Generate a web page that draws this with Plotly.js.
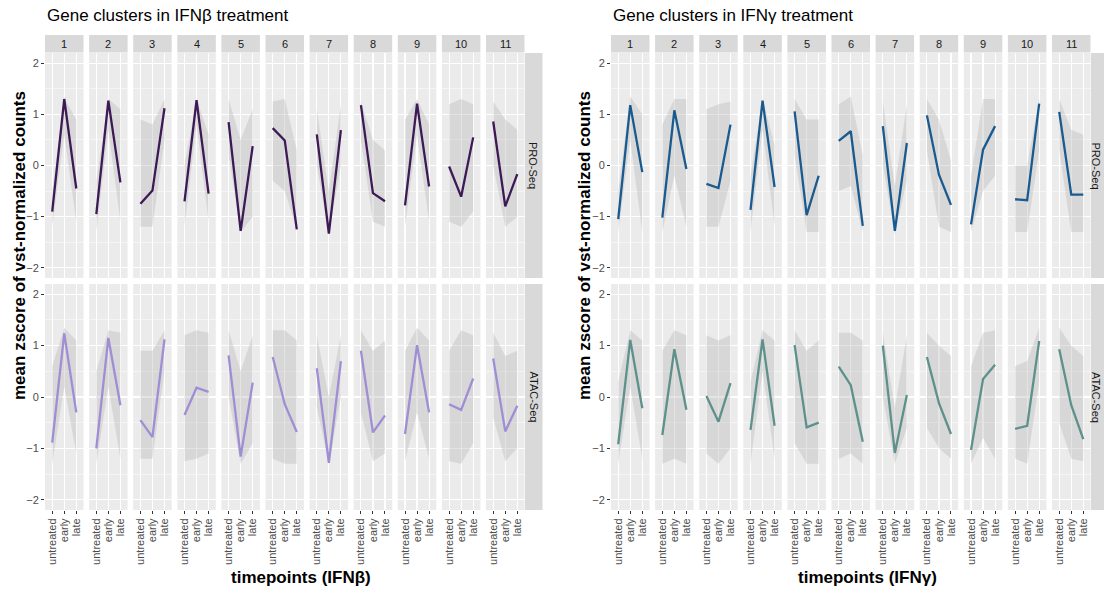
<!DOCTYPE html>
<html>
<head>
<meta charset="utf-8">
<script src="https://cdn.plot.ly/plotly-3.0.1.min.js"></script>
<style>
  html, body { margin: 0; padding: 0; background: #ffffff; }
  #chart { width: 1104px; height: 593px; }
</style>
</head>
<body>
<div id="chart"></div>
<script>
// Time points and gene clusters
const timepoints = ['untreated', 'early', 'late'];
const clusters = ['1', '2', '3', '4', '5', '6', '7', '8', '9', '10', '11'];
const assays = ['PRO-Seq', 'ATAC-Seq'];

// Cluster mean z-scores, IFNβ treatment (one row per cluster: untreated, early, late)
const betaPro = [
  [-0.90, 1.30, -0.45], [-0.95, 1.27, -0.33], [-0.75, -0.49, 1.12], [-0.70, 1.28, -0.55],
  [0.85, -1.28, 0.38], [0.73, 0.49, -1.25], [0.61, -1.33, 0.69], [1.18, -0.54, -0.70],
  [-0.78, 1.21, -0.41], [-0.02, -0.61, 0.55], [0.86, -0.80, -0.17]
];
const betaAtac = [
  [-0.89, 1.24, -0.30], [-1.00, 1.15, -0.16], [-0.45, -0.78, 1.12], [-0.35, 0.18, 0.10],
  [0.81, -1.16, 0.28], [0.78, -0.14, -0.68], [0.56, -1.28, 0.70], [0.90, -0.69, -0.36],
  [-0.72, 1.01, -0.30], [-0.14, -0.25, 0.36], [0.75, -0.67, -0.17]
];

// Cluster mean z-scores, IFNγ treatment
const gammaPro = [
  [-1.05, 1.18, -0.13], [-1.02, 1.08, -0.07], [-0.36, -0.44, 0.80], [-0.87, 1.27, -0.42],
  [1.06, -0.97, -0.20], [0.48, 0.67, -1.18], [0.77, -1.28, 0.44], [0.98, -0.18, -0.77],
  [-1.15, 0.31, 0.77], [-0.66, -0.68, 1.21], [1.05, -0.57, -0.57]
];
const gammaAtac = [
  [-0.92, 1.11, -0.22], [-0.74, 0.93, -0.25], [0.02, -0.48, 0.27], [-0.64, 1.12, -0.56],
  [1.01, -0.59, -0.50], [0.59, 0.23, -0.87], [1.00, -1.09, 0.04], [0.78, -0.12, -0.72],
  [-1.03, 0.35, 0.63], [-0.62, -0.56, 1.09], [0.93, -0.16, -0.82]
];

// Spread of the individual genes in each cluster (lower / upper bound per time point)
const betaProLo = [
  [-1.2, 0.6, -1.1], [-1.3, 0.7, -1.1], [-1.2, -1.2, 0.5], [-1.2, 0.8, -1.1],
  [0.2, -1.3, -1.0], [-0.3, -0.5, -1.25], [0.0, -1.35, 0.0], [0.5, -1.1, -1.2],
  [-1.2, 0.6, -1.1], [-1.1, -1.2, -0.9], [0.0, -1.2, -1.0]
];
const betaProHi = [
  [-0.5, 1.32, 0.9], [-0.3, 1.3, 1.1], [0.9, 0.8, 1.3], [0.0, 1.3, 0.6],
  [1.3, 0.5, 1.1], [1.25, 1.3, 0.3], [1.1, -0.5, 1.2], [1.25, 0.5, 0.3],
  [0.9, 1.3, 0.8], [1.2, 1.3, 1.2], [1.25, 0.9, 0.7]
];
const betaAtacLo = [
  [-1.3, 0.2, -1.1], [-1.3, 0.2, -1.2], [-1.2, -1.2, 0.5], [-1.25, -1.2, -1.1],
  [0.0, -1.3, -0.9], [-1.2, -1.3, -1.3], [-0.2, -1.3, 0.0], [-0.3, -1.25, -1.1],
  [-1.25, -0.3, -1.2], [-1.25, -1.3, -0.9], [-0.4, -1.25, -1.0]
];
const betaAtacHi = [
  [0.6, 1.35, 1.1], [0.5, 1.3, 1.25], [0.9, 0.9, 1.3], [1.2, 1.3, 1.25],
  [1.3, 0.5, 1.2], [1.3, 1.3, 1.1], [1.2, 0.0, 1.2], [1.3, 0.9, 1.1],
  [0.9, 1.35, 1.1], [0.9, 1.3, 1.2], [1.25, 0.8, 0.9]
];
const gammaProLo = [
  [-1.3, 0.5, -1.3], [-1.3, -0.2, -1.2], [-1.2, -1.2, -0.3], [-1.3, 0.7, -1.2],
  [0.2, -1.3, -1.3], [-0.5, -0.4, -1.3], [0.0, -1.35, -0.3], [0.3, -1.2, -1.3],
  [-1.3, -0.5, -0.2], [-1.3, -1.3, 0.3], [0.3, -1.3, -1.3]
];
const gammaProHi = [
  [-0.5, 1.35, 1.0], [0.8, 1.3, 1.3], [1.1, 1.2, 1.25], [-0.2, 1.3, 0.4],
  [1.3, 0.9, 0.9], [1.2, 1.35, 0.2], [1.25, -0.4, 1.2], [1.3, 0.9, 0.1],
  [-0.2, 1.3, 1.3], [0.0, 0.0, 1.3], [1.3, 0.7, 0.6]
];
const gammaAtacLo = [
  [-1.3, 0.2, -1.2], [-1.3, -1.2, -1.3], [-1.1, -1.3, -1.0], [-1.3, 0.5, -1.2],
  [-0.9, -1.3, -1.3], [-1.2, -1.1, -1.3], [0.0, -1.3, -0.6], [-0.6, -1.0, -1.2],
  [-1.3, -0.8, -1.2], [-1.2, -1.3, 0.3], [-0.5, -1.2, -1.25]
];
const gammaAtacHi = [
  [0.3, 1.3, 1.1], [0.9, 1.3, 1.2], [1.2, 1.1, 1.2], [0.3, 1.3, 1.1],
  [1.3, 0.9, 1.1], [1.25, 1.25, 1.1], [1.25, -0.2, 1.2], [1.25, 1.0, 0.8],
  [0.6, 1.25, 1.3], [0.6, 0.7, 1.35], [1.35, 1.0, 0.8]
];

// Panel definitions: one block of 11 x 2 facets per treatment
const W = 1104, H = 593;
const panels = [
  {
    title: 'Gene clusters in IFNβ treatment', xtitle: 'timepoints (IFNβ)',
    left: 45, xtitleX: 301, ytitleX: 19,
    rows: [
      { mean: betaPro, lo: betaProLo, hi: betaProHi, color: '#3D1A56' },
      { mean: betaAtac, lo: betaAtacLo, hi: betaAtacHi, color: '#A08ED4' }
    ]
  },
  {
    title: 'Gene clusters in IFNγ treatment', xtitle: 'timepoints (IFNγ)',
    left: 611, xtitleX: 867, ytitleX: 584,
    rows: [
      { mean: gammaPro, lo: gammaProLo, hi: gammaProHi, color: '#1B5A8E' },
      { mean: gammaAtac, lo: gammaAtacLo, hi: gammaAtacHi, color: '#5E908C' }
    ]
  }
];

const facetStep = 44.1, facetW = 38.5;
const rowTop = [53, 284], rowBot = [278, 510];
const stripTop = 35, stripBot = 52.5;

const px = v => v / W;
const py = v => 1 - v / H;

const traces = [];
const layout = {
  width: W, height: H,
  margin: { l: 0, r: 0, t: 0, b: 0 },
  paper_bgcolor: '#FFFFFF',
  plot_bgcolor: '#EBEBEB',
  showlegend: false,
  font: { family: 'Liberation Sans, Arial, sans-serif', color: '#1A1A1A' },
  shapes: [],
  annotations: []
};

let n = 0;
panels.forEach((panel) => {
  panel.rows.forEach((row, r) => {
    clusters.forEach((cl, i) => {
      n += 1;
      const xa = 'x' + (n === 1 ? '' : n);
      const ya = 'y' + (n === 1 ? '' : n);
      const x0 = panel.left + i * facetStep;

      // Gene spread band
      traces.push({
        type: 'scatter', mode: 'lines', xaxis: xa, yaxis: ya,
        x: timepoints.concat(timepoints.slice().reverse()),
        y: row.hi[i].concat(row.lo[i].slice().reverse()),
        fill: 'toself', fillcolor: 'rgba(185,185,185,0.38)',
        line: { width: 0 }, hoverinfo: 'skip'
      });
      // Cluster mean
      traces.push({
        type: 'scatter', mode: 'lines', xaxis: xa, yaxis: ya,
        x: timepoints, y: row.mean[i],
        line: { color: row.color, width: 2.3 },
        name: assays[r] + ' ' + cl
      });

      const bottom = r === 1;
      const first = i === 0;
      layout['xaxis' + (n === 1 ? '' : n)] = {
        domain: [px(x0), px(x0 + facetW)],
        anchor: ya,
        type: 'category', categoryorder: 'array', categoryarray: timepoints,
        tickmode: 'array', tickvals: timepoints, ticktext: timepoints,
        range: [-0.6, 2.6],
        showgrid: true, gridcolor: '#FFFFFF', gridwidth: 1.1,
        zeroline: false, showline: false,
        ticks: bottom ? 'outside' : '', ticklen: 3, tickwidth: 1, tickcolor: '#333333',
        showticklabels: bottom, tickangle: -90,
        tickfont: { size: 11, color: '#4D4D4D' },
        fixedrange: true
      };
      layout['yaxis' + (n === 1 ? '' : n)] = {
        domain: [py(rowBot[r]), py(rowTop[r])],
        anchor: xa,
        range: [-2.2, 2.2], dtick: 1, tick0: 0,
        showgrid: true, gridcolor: '#FFFFFF', gridwidth: 1.1,
        minor: { dtick: 0.5, showgrid: true, gridcolor: '#FFFFFF', gridwidth: 0.5 },
        zeroline: false, showline: false,
        ticks: first ? 'outside' : '', ticklen: 3, tickwidth: 1, tickcolor: '#333333',
        showticklabels: first,
        tickfont: { size: 11, color: '#4D4D4D' },
        fixedrange: true
      };

      // Column strip (top row only)
      if (r === 0) {
        layout.shapes.push({
          type: 'rect', xref: 'paper', yref: 'paper', layer: 'below',
          x0: px(x0), x1: px(x0 + facetW), y0: py(stripBot), y1: py(stripTop),
          fillcolor: '#D9D9D9', line: { width: 0 }
        });
        layout.annotations.push({
          xref: 'paper', yref: 'paper', showarrow: false,
          x: px(x0 + facetW / 2), y: py((stripTop + stripBot) / 2),
          xanchor: 'center', yanchor: 'middle',
          text: cl, font: { size: 11, color: '#1A1A1A' }
        });
      }
    });

    // Row strip on the right side
    const sx0 = panel.left + 10 * facetStep + facetW + 0.5;
    layout.shapes.push({
      type: 'rect', xref: 'paper', yref: 'paper', layer: 'below',
      x0: px(sx0), x1: px(sx0 + 17.5), y0: py(rowBot[r]), y1: py(rowTop[r]),
      fillcolor: '#D9D9D9', line: { width: 0 }
    });
    layout.annotations.push({
      xref: 'paper', yref: 'paper', showarrow: false,
      x: px(Math.min(sx0 + 8.5, W - 8)), y: py((rowTop[r] + rowBot[r]) / 2),
      xanchor: 'center', yanchor: 'middle', textangle: 90,
      text: assays[r], font: { size: 11, color: '#1A1A1A' }
    });
  });

  // Panel title
  layout.annotations.push({
    xref: 'paper', yref: 'paper', showarrow: false,
    x: px(panel.left), y: py(16), xanchor: 'left', yanchor: 'middle',
    text: panel.title, font: { size: 17, color: '#000000' }
  });
  // Axis titles
  layout.annotations.push({
    xref: 'paper', yref: 'paper', showarrow: false,
    x: px(panel.xtitleX), y: py(577), xanchor: 'center', yanchor: 'middle',
    text: '<b>' + panel.xtitle + '</b>', font: { size: 17, color: '#000000' }
  });
  layout.annotations.push({
    xref: 'paper', yref: 'paper', showarrow: false,
    x: px(panel.ytitleX), y: py(246), xanchor: 'center', yanchor: 'middle',
    textangle: -90,
    text: '<b>mean zscore of vst-normalized counts</b>', font: { size: 17, color: '#000000' }
  });
});

Plotly.newPlot('chart', traces, layout, { displayModeBar: false, staticPlot: true });
</script>
</body>
</html>
